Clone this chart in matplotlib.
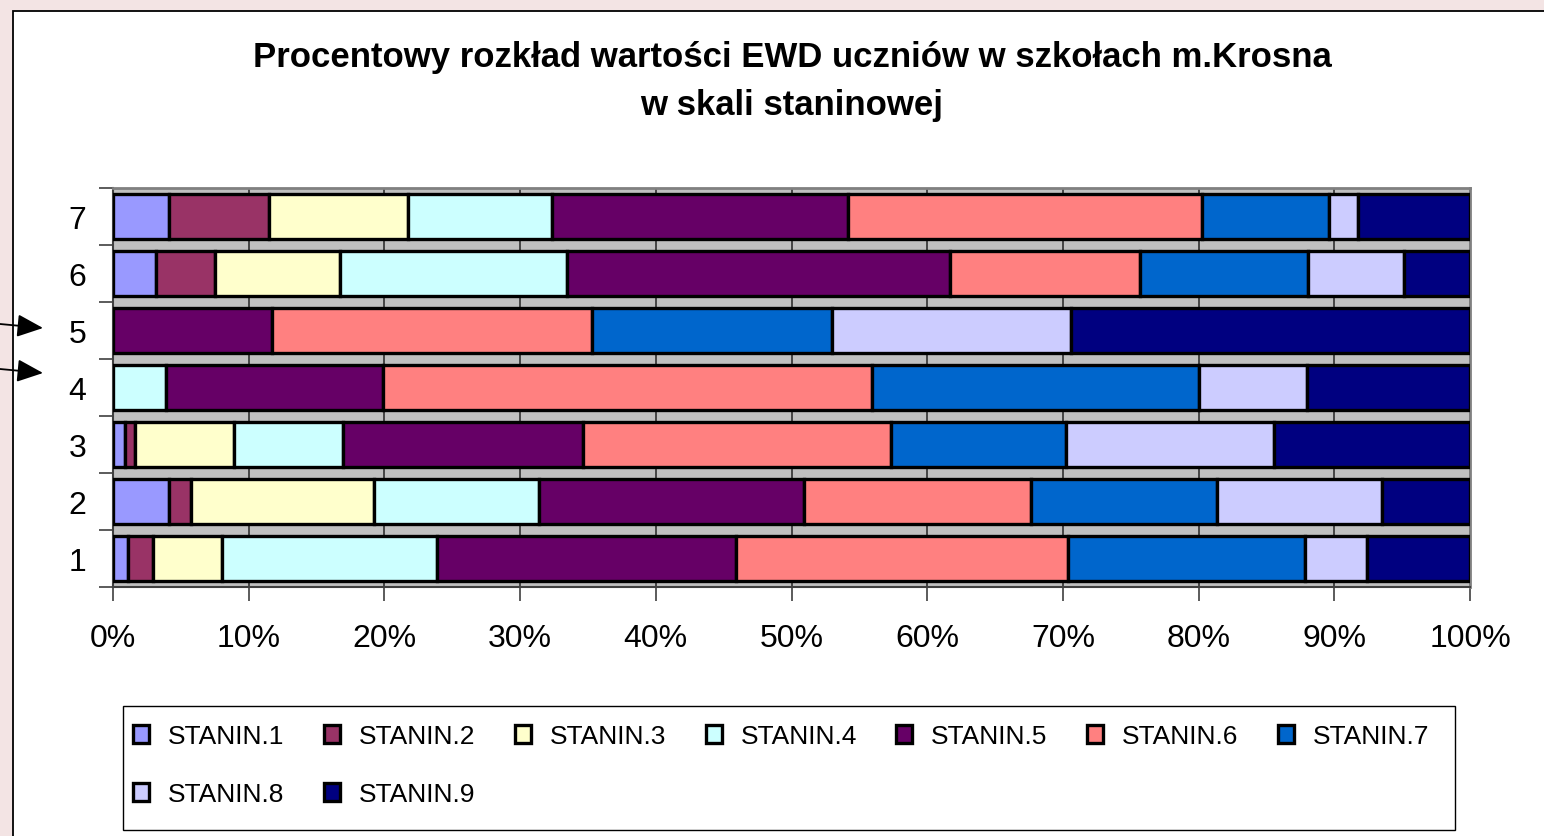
import numpy as np
import matplotlib.pyplot as plt
from matplotlib.patches import Rectangle

# rows of the chart (schools), bottom to top
schools = ['1', '2', '3', '4', '5', '6', '7']

stanin_labels = ['STANIN.1', 'STANIN.2', 'STANIN.3', 'STANIN.4', 'STANIN.5',
                 'STANIN.6', 'STANIN.7', 'STANIN.8', 'STANIN.9']
stanin_colors = ['#9999FF', '#993366', '#FFFFCC', '#CCFFFF', '#660066',
                 '#FF8080', '#0066CC', '#CCCCFF', '#000080']

# percent of pupils in stanins 1..9
school_1 = [1.10, 1.87, 5.03, 15.84, 22.05, 24.50, 17.43, 4.59, 7.59]
school_2 = [4.10, 1.65, 13.50, 12.15, 19.54, 16.70, 13.75, 12.16, 6.45]
school_3 = [0.86, 0.76, 7.32, 8.00, 17.73, 22.64, 12.89, 15.34, 14.46]
school_4 = [0.00, 0.00, 0.00, 3.90, 16.03, 36.02, 24.07, 7.97, 12.01]
school_5 = [0.00, 0.00, 0.00, 0.00, 11.71, 23.62, 17.63, 17.61, 29.43]
school_6 = [3.17, 4.37, 9.20, 16.70, 28.24, 13.99, 12.38, 7.07, 4.88]
school_7 = [4.10, 7.37, 10.30, 10.57, 21.80, 26.12, 9.32, 2.15, 8.27]

title_1 = 'Procentowy rozkład wartości EWD uczniów w szkołach m.Krosna'
title_2 = 'w skali staninowej'

shares = np.array([school_1, school_2, school_3, school_4,
                   school_5, school_6, school_7])
shares = shares / shares.sum(axis=1, keepdims=True) * 100

plt.rcParams['font.family'] = ['Liberation Sans', 'DejaVu Sans']

W, H = 1544, 837
fig = plt.figure(figsize=(W / 100, H / 100), dpi=100, facecolor='#f3e4e4')

# white chart area with its black border
fig.add_artist(Rectangle((13 / W, -0.1), 1.2, 1 - 12 / H + 0.1,
                         transform=fig.transFigure, facecolor='white',
                         edgecolor='black', lw=1.3, zorder=0))

ax = fig.add_axes([113 / W, 1 - 588 / H, (1470 - 113) / W, (588 - 189) / H])
ax.set_facecolor('#C0C0C0')

y = np.arange(1, len(schools) + 1)
left = np.zeros(len(schools))
handles = []
for j in range(len(stanin_labels)):
    b = ax.barh(y, shares[:, j], left=left, height=0.8,
                color=stanin_colors[j], edgecolor='black', linewidth=2.4,
                label=stanin_labels[j], zorder=3)
    handles.append(b)
    left += shares[:, j]

ax.set_xlim(0, 100)
ax.set_ylim(0.5, len(schools) + 0.5)
ax.set_xticks(np.arange(0, 101, 10))
ax.set_xticklabels([f'{v}%' for v in range(0, 101, 10)], fontsize=23)
ax.set_yticks(np.arange(0.5, len(schools) + 1, 1))
ax.set_yticklabels([])
ax.set_yticks(y, minor=True)
ax.set_yticklabels(schools, minor=True, fontsize=23)
ax.tick_params(axis='y', which='minor', length=0, pad=19)
ax.tick_params(axis='y', which='major', length=10, width=1.2, color='#404040')
ax.tick_params(axis='x', length=10, width=1.2, color='#404040', pad=16)

ax.xaxis.grid(True, color='#303030', lw=1.2)
ax.set_axisbelow(True)
for side in ['top', 'right']:
    ax.spines[side].set_color('#808080')
    ax.spines[side].set_linewidth(2)
for side in ['left', 'bottom']:
    ax.spines[side].set_color('#404040')
    ax.spines[side].set_linewidth(1.5)

fig.text(792 / W, 1 - 58 / H, title_1, ha='center', va='center',
         fontsize=25, fontweight='bold')
fig.text(792 / W, 1 - 105 / H, title_2, ha='center', va='center',
         fontsize=25, fontweight='bold')

# arrows on the slide pointing at rows 5 and 4
for y0, y1 in [(325, 329), (370, 374)]:
    ax.annotate('', xy=(43 / W, 1 - y1 / H), xytext=(0, 1 - y0 / H),
                xycoords='figure fraction', textcoords='figure fraction',
                arrowprops=dict(arrowstyle='-|>,head_length=0.8,head_width=0.35',
                                mutation_scale=20, color='black', lw=1.3,
                                shrinkA=0, shrinkB=0),
                annotation_clip=False)

# legend: 7 in the first row, 2 in the second
order = [0, 7, 1, 8, 2, 3, 4, 5, 6]
fig.add_artist(Rectangle((123 / W, 1 - 831 / H), 1332 / W, 124 / H,
                         transform=fig.transFigure, facecolor='white',
                         edgecolor='black', lw=1.0, zorder=1))
leg = fig.legend([handles[i] for i in order], [stanin_labels[i] for i in order],
                 ncol=7, loc='upper left', bbox_to_anchor=(120 / W, 1 - 712 / H),
                 frameon=False, borderpad=0, handlelength=0.6, handleheight=0.7,
                 handletextpad=0.72, columnspacing=1.5, labelspacing=1.28,
                 prop={'size': 19})
leg.set_zorder(2)

fig.savefig('out.png', dpi=100, facecolor=fig.get_facecolor())
